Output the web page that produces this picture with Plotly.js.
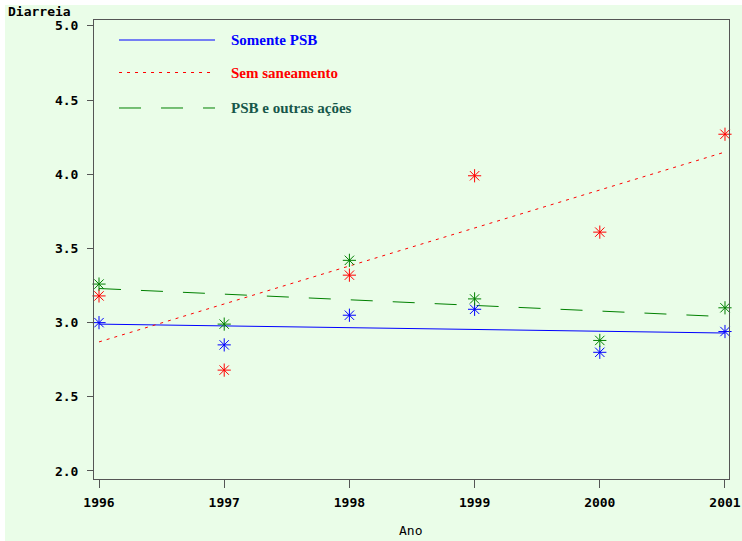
<!DOCTYPE html>
<html>
<head>
<meta charset="utf-8">
<script src="https://cdn.plot.ly/plotly-3.0.1.min.js"></script>
<style>
  html, body { margin: 0; padding: 0; background: #ffffff; }
  #chart { position: absolute; left: 5px; top: 5px; width: 737px; height: 536px; }
</style>
</head>
<body>
<div id="chart"></div>
<script>
// ---- data ----
const anos = [1996, 1997, 1998, 1999, 2000, 2001];
const somentePSB = [3.00, 2.85, 3.05, 3.09, 2.80, 2.94];
const semSaneamento = [3.18, 2.68, 3.32, 3.99, 3.61, 4.27];
const psbOutras = [3.26, 2.99, 3.42, 3.16, 2.88, 3.10];

// fitted trend lines (endpoints)
const anosAjuste = [1996, 2001];
const ajusteSomentePSB = [2.99, 2.93];
const ajusteSemSaneamento = [2.87, 4.15];
const ajustePsbOutras = [3.23, 3.04];

const nomes = ["Somente PSB", "Sem saneamento", "PSB e outras ações"];
const xTicks = [1996, 1997, 1998, 1999, 2000, 2001];
const yTicks = [2.0, 2.5, 3.0, 3.5, 4.0, 4.5, 5.0];

const cores = ["#0000ff", "#ff0000", "#008000"];
const coresTexto = ["#0000ff", "#ff0000", "#17574a"];
const tracos = ["solid", "3px,5px", "22px,20px"];

const series = [somentePSB, semSaneamento, psbOutras];
const ajustes = [ajusteSomentePSB, ajusteSemSaneamento, ajustePsbOutras];

const traces = [];
series.forEach((s, i) => {
  traces.push({
    x: anosAjuste, y: ajustes[i], mode: "lines", name: nomes[i],
    line: {color: cores[i], width: 1, dash: tracos[i]},
    hoverinfo: "skip", showlegend: false
  });
});
series.forEach((s, i) => {
  traces.push({
    x: anos, y: s, mode: "markers", name: nomes[i],
    marker: {symbol: "asterisk-open", size: 11, color: cores[i], line: {color: cores[i], width: 1}},
    hoverinfo: "skip", showlegend: false, cliponaxis: false
  });
});

const tickFont = {family: "DejaVu Sans Mono", size: 13, color: "#000000", weight: "bold"};
const bg = "#eafde8";

// legend drawn with shapes + annotations (paper coordinates)
const legY = [0.9564, 0.8856, 0.8083];
const shapes = [];
const annotations = [];
nomes.forEach((n, i) => {
  shapes.push({
    type: "line", xref: "paper", yref: "paper",
    x0: 0.0394, x1: 0.1906, y0: legY[i], y1: legY[i],
    line: {color: cores[i], width: 1, dash: tracos[i]}
  });
  annotations.push({
    xref: "paper", yref: "paper", x: 0.2126, y: legY[i],
    xanchor: "left", yanchor: "middle", showarrow: false, text: n,
    font: {family: "Liberation Serif", size: 15, color: coresTexto[i], weight: "bold"}
  });
});
annotations.push({
  xref: "paper", yref: "paper", x: -0.139, y: 1.0196, xanchor: "left", yanchor: "middle",
  showarrow: false, text: "Diarreia", font: tickFont
});
annotations.push({
  xref: "paper", yref: "paper", x: 0.499, y: -0.113, xanchor: "center", yanchor: "middle",
  showarrow: false, text: "Ano", font: {family: "DejaVu Sans Mono", size: 13, color: "#000000"}
});

const layout = {
  width: 737, height: 536,
  margin: {l: 89, r: 13, t: 15, b: 62, pad: 0},
  paper_bgcolor: bg, plot_bgcolor: bg,
  showlegend: false,
  xaxis: {
    range: [1995.96, 2001.032], tickvals: xTicks, ticktext: xTicks.map(String),
    ticks: "outside", ticklen: 8, tickwidth: 1, tickcolor: "#555555",
    showgrid: false, zeroline: false, showline: true, linecolor: "#555555", linewidth: 1,
    mirror: true, tickfont: tickFont, ticklabelstandoff: 3
  },
  yaxis: {
    range: [1.946, 5.04], tickvals: yTicks, ticktext: yTicks.map(v => v.toFixed(1)),
    ticks: "outside", ticklen: 6, tickwidth: 1, tickcolor: "#555555",
    showgrid: false, zeroline: false, showline: true, linecolor: "#555555", linewidth: 1,
    mirror: true, tickfont: tickFont, ticklabelstandoff: 6
  },
  shapes: shapes,
  annotations: annotations
};

Plotly.newPlot("chart", traces, layout, {displayModeBar: false, staticPlot: true});
</script>
</body>
</html>
